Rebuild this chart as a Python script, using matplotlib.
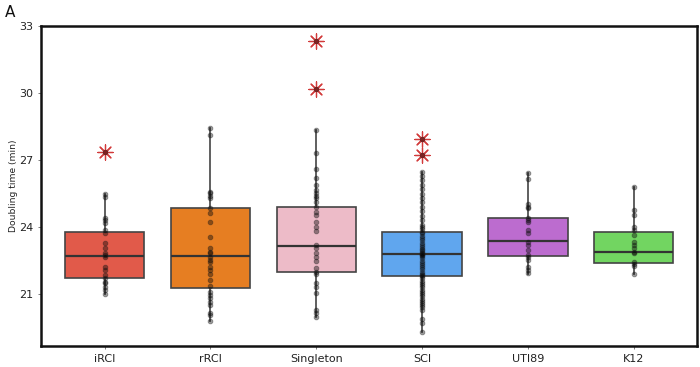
import matplotlib
matplotlib.use("Agg")
import matplotlib.pyplot as plt

categories = ["iRCI", "rRCI", "Singleton", "SCI", "UTI89", "K12"]
colors = ["#E15A4A", "#E67E22", "#EDBBC8", "#60A6EE", "#BC6CCF", "#72D561"]

q1 = [21.72, 21.25, 22.00, 21.82, 22.72, 22.37]
med = [22.69, 22.69, 23.13, 22.78, 23.39, 22.88]
q3 = [23.79, 24.84, 24.92, 23.76, 24.39, 23.76]
whislo = [20.99, 19.79, 19.98, 19.28, 21.90, 21.88]
whishi = [25.50, 28.42, 28.36, 26.45, 26.43, 25.81]
outliers = [[27.35], [], [32.34, 30.20], [27.94, 27.24], [], []]

pts_iRCI = [25.5, 25.35, 24.42, 24.3, 24.17, 23.87, 23.72, 23.27, 23.05, 22.82, 22.75,
            22.67, 22.22, 22.07, 21.85, 21.7, 21.55, 21.48, 21.33, 21.18, 21.0, 27.35]
pts_rRCI = [28.42, 28.12, 25.58, 25.51, 25.39, 25.28, 24.84, 24.61, 24.24, 23.54, 23.05,
            22.9, 22.82, 22.67, 22.52, 22.45, 22.22, 22.07, 21.9, 21.63, 21.37, 21.1,
            20.96, 20.81, 20.66, 20.51, 20.14, 20.06, 19.79]
pts_single = [28.36, 27.33, 26.6, 26.18, 25.88, 25.66, 25.51, 25.39, 25.29, 25.13, 24.91,
              24.69, 24.54, 24.24, 24.01, 23.84, 23.19, 23.05, 22.82, 22.64, 22.49, 22.15,
              22.0, 21.9, 21.48, 21.33, 21.03, 20.28, 20.13, 19.98, 32.34, 30.2]
pts_SCI = [26.45, 26.3, 26.1, 25.9, 25.7, 25.5, 25.3, 25.1, 24.9, 24.7, 24.5, 24.3, 24.1,
           24.0, 23.9, 23.8, 23.75, 23.6, 23.5, 23.4, 23.3, 23.2, 23.1, 23.0, 22.95, 22.9,
           22.85, 22.8, 22.78, 22.75, 22.7, 22.6, 22.5, 22.4, 22.3, 22.2, 22.1, 22.0, 21.9,
           21.85, 21.8, 21.7, 21.6, 21.5, 21.4, 21.3, 21.2, 21.1, 21.0, 20.9, 20.8, 20.7,
           20.6, 20.5, 20.4, 20.3, 19.9, 19.7, 19.28, 27.94, 27.24]
pts_UTI89 = [26.43, 26.13, 25.01, 24.91, 24.84, 24.42, 24.31, 24.24, 23.87, 23.72, 23.34,
             23.19, 22.97, 22.75, 22.67, 22.52, 22.22, 22.07, 21.93]
pts_K12 = [25.81, 24.76, 24.54, 24.01, 23.87, 23.64, 23.34, 23.19, 23.05, 22.9, 22.82,
           22.45, 22.34, 22.27, 21.88]
points = [pts_iRCI, pts_rRCI, pts_single, pts_SCI, pts_UTI89, pts_K12]

yticks = [21, 24, 27, 30, 33]

fig = plt.figure(figsize=(7, 3.67), dpi=100)
ax = fig.add_axes([0.0586, 0.057, 0.9374, 0.872])

stats = []
for i, c in enumerate(categories):
    stats.append(dict(label=c, q1=q1[i], med=med[i], q3=q3[i],
                      whislo=whislo[i], whishi=whishi[i], fliers=[]))
pos = list(range(len(categories)))
bp = ax.bxp(stats, positions=pos, widths=0.75, patch_artist=True, showfliers=False,
            showcaps=False,
            boxprops=dict(edgecolor="#444444", linewidth=1.2),
            medianprops=dict(color="#333333", linewidth=1.6),
            whiskerprops=dict(color="#444444", linewidth=1.2))
for patch, col in zip(bp["boxes"], colors):
    patch.set_facecolor(col)
    patch.set_zorder(1)

for i, outs in enumerate(outliers):
    if outs:
        ax.scatter([pos[i]] * len(outs), outs, marker=(8, 2, 0), s=120,
                   color="#D23A3A", linewidths=0.9, zorder=2.5)

for i, vals in enumerate(points):
    ax.scatter([pos[i]] * len(vals), vals, s=12, color="black", alpha=0.4,
               edgecolors="#222222", linewidths=0.6, zorder=3)

ax.set_xlim(-0.6, 5.6)
ax.set_ylim(18.67, 33)
ax.set_yticks(yticks)
ax.set_yticklabels([str(t) for t in yticks], fontsize=8, color="#222222")
ax.set_xticks(pos)
ax.set_xticklabels(categories, fontsize=8, color="#222222")
ax.tick_params(axis="both", length=2.5, width=0.6, color="#666666", pad=3)
ax.set_ylabel("Doubling time (min)", fontsize=6.6, color="#222222")
ax.yaxis.set_label_coords(-0.035, 0.5)
for sp in ax.spines.values():
    sp.set_linewidth(1.8)
    sp.set_color("#111111")

fig.text(0.007, 0.965, "A", fontsize=11, va="center", ha="left", color="#111111")

fig.savefig("out.png", dpi=100)
